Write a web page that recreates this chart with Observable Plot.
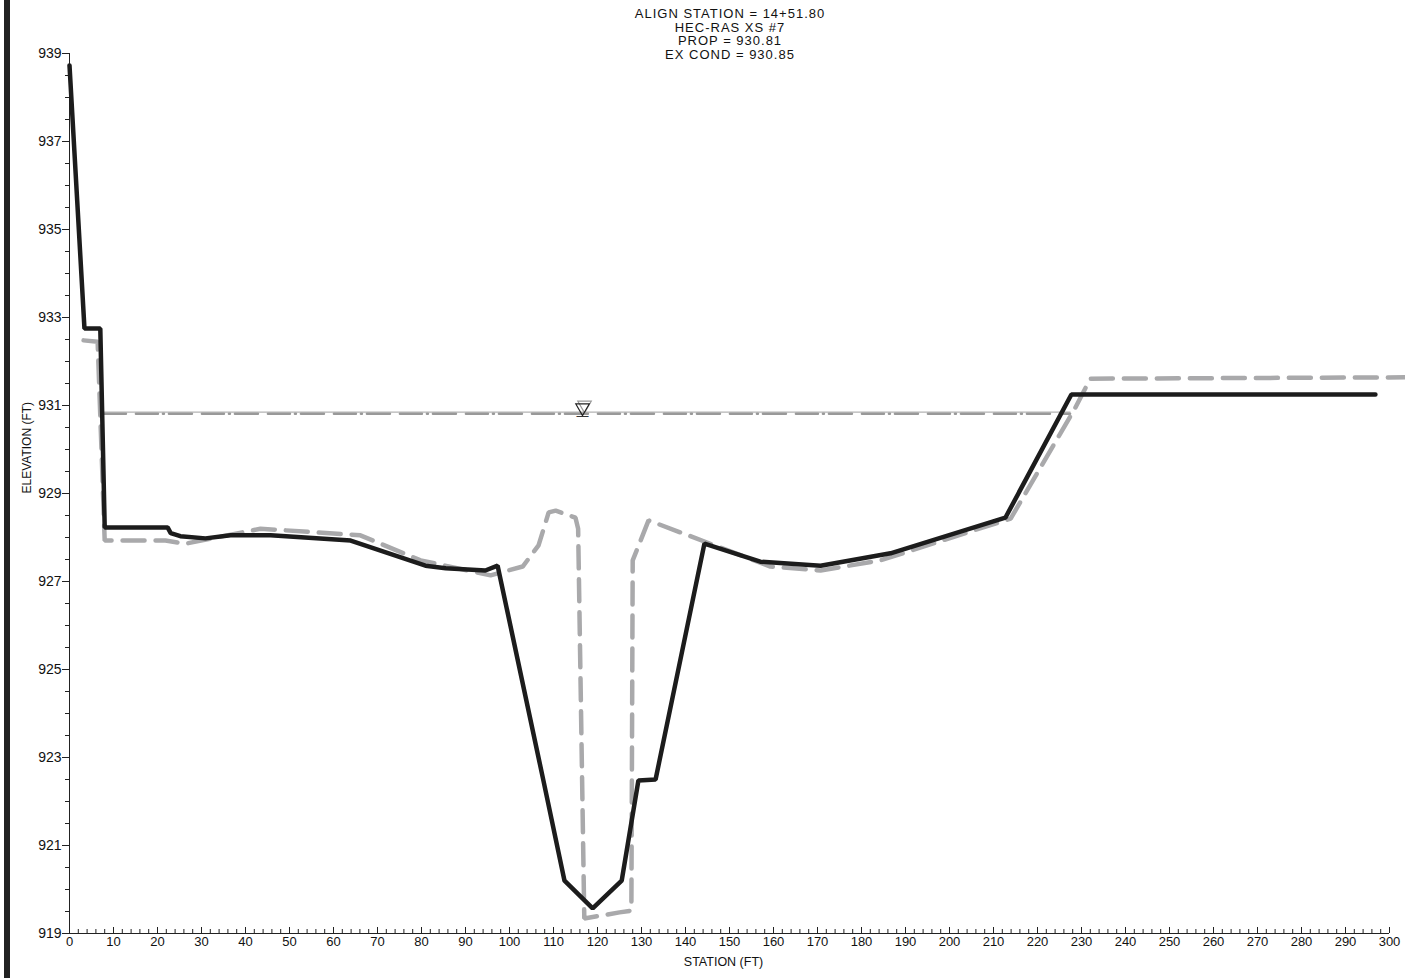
<!DOCTYPE html>
<html>
<head>
<meta charset="utf-8">
<script src="https://cdn.jsdelivr.net/npm/d3@7"></script>
<script src="https://cdn.jsdelivr.net/npm/@observablehq/plot@0.6"></script>
<style>
  html, body { margin: 0; padding: 0; background: #fff; }
  #wrap { position: relative; width: 1405px; height: 978px; overflow: hidden; }
  #bar { position: absolute; left: 4px; top: 0; width: 6px; height: 978px; background: #222; }
  #title { position: absolute; left: 0; width: 1460px; top: 7px; text-align: center;
           font-family: "Liberation Sans", Arial, sans-serif; font-size: 13px; line-height: 13.7px;
           letter-spacing: 1px; color: #111; }
  #chart { position: absolute; left: 0; top: 0; }
</style>
</head>
<body>
<div id="wrap">
  <div id="chart"></div>
  <div id="bar"></div>
  <div id="title">ALIGN STATION = 14+51.80<br>HEC-RAS XS #7<br>PROP = 930.81<br>EX COND = 930.85</div>
</div>
<script>
// Proposed ground (solid black)
const propStation = [0, 3.4, 7.0, 8.0, 22.3, 23.0, 25.2, 30.9, 36.6, 45.7, 63.9, 80.9, 85.5, 94.5, 97.3, 107.7, 112.5, 118.9, 125.5, 129.3, 133.2, 144.3, 157.0, 170.7, 186.6, 212.7, 227.7, 296.8];
const propElev    = [938.73, 932.75, 932.75, 928.23, 928.23, 928.1, 928.03, 927.98, 928.05, 928.05, 927.93, 927.36, 927.3, 927.25, 927.36, 922.48, 920.2, 919.57, 920.2, 922.48, 922.5, 927.86, 927.45, 927.36, 927.64, 928.45, 931.25, 931.25];
// Existing ground (grey dashed)
const exStation = [3.2, 6.4, 8.0, 21.8, 26.4, 43.4, 66.1, 79.8, 95.7, 103.0, 106.6, 108.9, 110.5, 115.0, 115.6, 117.0, 125.0, 127.7, 128.0, 129.8, 131.6, 159.3, 170.7, 184.3, 213.9, 228.6, 232.0, 303.6];
const exElev    = [932.48, 932.45, 927.93, 927.93, 927.86, 928.2, 928.05, 927.48, 927.14, 927.34, 927.82, 928.57, 928.61, 928.45, 928.2, 919.34, 919.48, 919.52, 927.48, 927.93, 928.39, 927.34, 927.25, 927.48, 928.43, 930.95, 931.61, 931.64];
// Water surfaces
const wsStation = [7.6, 227.4];
const wsProp = 930.81;
const wsEx = 930.85;
const wsSymbolStation = 116.6;
// Axis ticks
const xMajor = d3.range(0, 301, 10);
const xMinor = d3.range(0, 301, 2).filter(d => d % 10 !== 0);
const yMajor = d3.range(919, 940, 2);
const yMinor = d3.range(919, 939.01, 0.5).filter(d => !yMajor.includes(d));

const prop = propStation.map((s, i) => ({station: s, elev: propElev[i]}));
const ex = exStation.map((s, i) => ({station: s, elev: exElev[i]}));
const wsP = wsStation.map(s => ({station: s, elev: wsProp}));
const wsE = wsStation.map(s => ({station: s, elev: wsEx}));

const font = "Liberation Sans, Arial, sans-serif";

const chart = Plot.plot({
  width: 1405,
  height: 978,
  marginLeft: 69,
  marginRight: 16,
  marginTop: 53,
  marginBottom: 45,
  style: {fontFamily: font, fontSize: "13px", color: "#111", background: "transparent", overflow: "visible"},
  x: {domain: [0, 300], label: null},
  y: {domain: [919, 939], label: null},
  marks: [
    // axis lines
    Plot.ruleX([0], {y1: 919, y2: 939, stroke: "#222", strokeWidth: 1}),
    Plot.ruleY([919], {x1: 0, x2: 300, stroke: "#222", strokeWidth: 1}),
    // y axis ticks
    Plot.axisY({ticks: yMinor, tickSize: 4, text: null, stroke: "#222"}),
    Plot.axisY({ticks: yMajor, tickSize: 7, tickPadding: 1, fontSize: 14, stroke: "#222", label: null, tickFormat: d => String(d)}),
    // x axis ticks (pointing up)
    Plot.axisX({ticks: xMinor, tickSize: 4, dy: -4, text: null, stroke: "#222"}),
    Plot.axisX({ticks: xMajor, tickSize: 6, dy: -6, text: null, stroke: "#222"}),
    Plot.axisX({ticks: xMajor, tickSize: 0, tickPadding: 3, fontSize: 13, label: null, tickFormat: d => String(d)}),
    // axis titles
    Plot.text(["ELEVATION (FT)"], {frameAnchor: "left", dx: -42, rotate: -90, fontSize: 12, fontFamily: font, fill: "#111", letterSpacing: "0.8px"}),
    Plot.text(["STATION (FT)"], {frameAnchor: "bottom", dx: -6, dy: 32, fontSize: 12.5, fontFamily: font, fill: "#111", letterSpacing: "0.8px"}),
    // water surface lines
    Plot.line(wsE, {x: "station", y: "elev", stroke: "#a0a0a0", strokeWidth: 1}),
    Plot.line(wsP, {x: "station", y: "elev", stroke: "#999", strokeWidth: 2.5, strokeDasharray: "23,10,22,5,1,5"}),
    // water surface symbol
    Plot.dot([{station: wsSymbolStation, elev: wsEx}], {x: "station", y: "elev", symbol: "triangle", rotate: 180, r: 5, stroke: "#999", fill: "none", strokeWidth: 1.2, dx: 2, dy: -7}),
    Plot.dot([{station: wsSymbolStation, elev: wsProp}], {x: "station", y: "elev", symbol: "triangle", rotate: 180, r: 5, stroke: "#222", fill: "none", strokeWidth: 1.2, dy: -6}),
    Plot.text([{station: wsSymbolStation, elev: wsProp}], {x: "station", y: "elev", text: () => "—", fontSize: 12, fill: "#333", dy: 2}),
    // existing ground
    Plot.line(ex, {x: "station", y: "elev", stroke: "#a9a9ab", strokeWidth: 4.5, strokeDasharray: "22,11", strokeLinejoin: "miter"}),
    // proposed ground
    Plot.line(prop, {x: "station", y: "elev", stroke: "#1c1c1c", strokeWidth: 4.5, strokeLinejoin: "miter"})
  ]
});
document.getElementById("chart").appendChild(chart);
</script>
</body>
</html>
